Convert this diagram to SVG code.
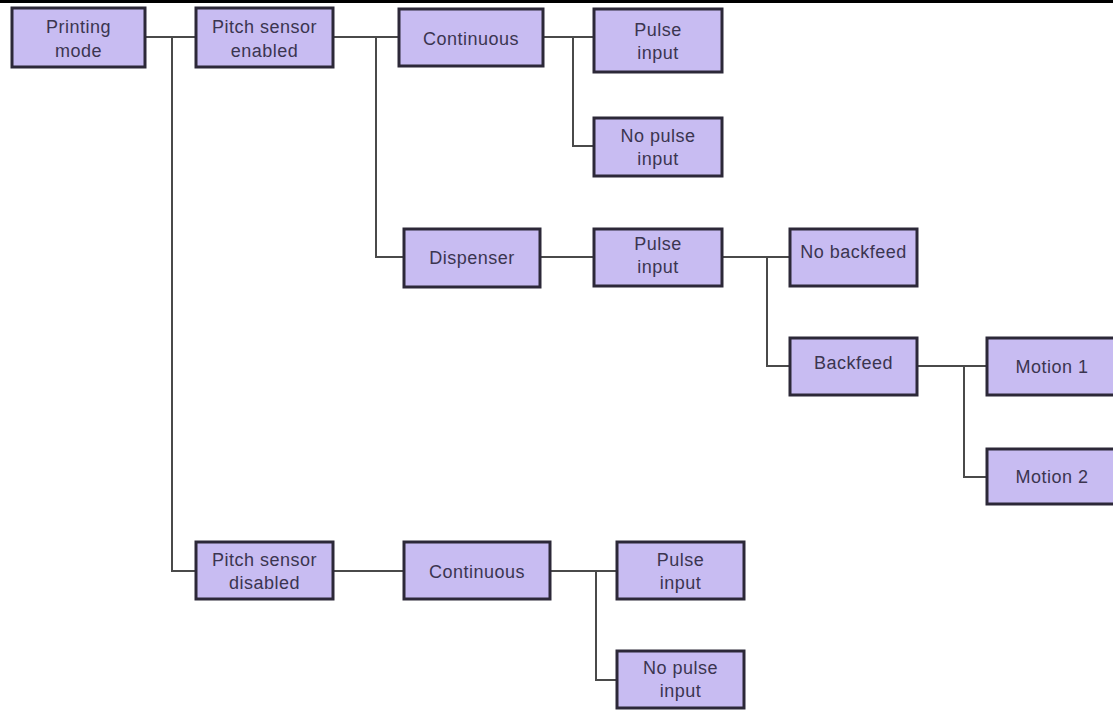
<svg xmlns="http://www.w3.org/2000/svg" width="1113" height="711" viewBox="0 0 1113 711">
<style>
.box{fill:#c8bcf2;stroke:#2c2838;stroke-width:3}
.t{font-family:"Liberation Sans",Arial,sans-serif;font-size:18px;letter-spacing:0.5px;fill:#3b3550;text-anchor:middle}
.c{fill:none;stroke:#4a4a4a;stroke-width:2}
</style>
<rect width="1113" height="711" fill="#ffffff"/>
<rect x="0" y="0" width="1113" height="3" fill="#000000"/>
<g id="connectors">
<path class="c" d="M145,37 H196 M172,37 V571 H196"/>
<path class="c" d="M333,37 H399 M376,37 V257 H404"/>
<path class="c" d="M543,37 H594 M573,37 V146 H594"/>
<path class="c" d="M540,257 H594"/>
<path class="c" d="M722,257 H790 M767,257 V366 H790"/>
<path class="c" d="M917,366 H987 M964,366 V477 H987"/>
<path class="c" d="M333,571 H404"/>
<path class="c" d="M550,571 H617 M596,571 V680 H617"/>
</g>
<g id="n-printing-mode"><rect class="box" x="12" y="8" width="133" height="59"/><text class="t" x="78.5" y="33">Printing</text><text class="t" x="78.5" y="57">mode</text></g>
<g id="n-pitch-enabled"><rect class="box" x="196" y="8" width="137" height="59"/><text class="t" x="264.5" y="33">Pitch sensor</text><text class="t" x="264.5" y="57">enabled</text></g>
<g id="n-continuous-1"><rect class="box" x="399" y="9" width="144" height="57"/><text class="t" x="471" y="45">Continuous</text></g>
<g id="n-pulse-1"><rect class="box" x="594" y="9" width="128" height="63"/><text class="t" x="658" y="36">Pulse</text><text class="t" x="658" y="59">input</text></g>
<g id="n-nopulse-1"><rect class="box" x="594" y="118" width="128" height="58"/><text class="t" x="658" y="142">No pulse</text><text class="t" x="658" y="165">input</text></g>
<g id="n-dispenser"><rect class="box" x="404" y="229" width="136" height="58"/><text class="t" x="472" y="264">Dispenser</text></g>
<g id="n-pulse-2"><rect class="box" x="594" y="229" width="128" height="57"/><text class="t" x="658" y="250">Pulse</text><text class="t" x="658" y="273">input</text></g>
<g id="n-no-backfeed"><rect class="box" x="790" y="229" width="127" height="57"/><text class="t" x="853.5" y="258">No backfeed</text></g>
<g id="n-backfeed"><rect class="box" x="790" y="338" width="127" height="57"/><text class="t" x="853.5" y="369">Backfeed</text></g>
<g id="n-motion-1"><rect class="box" x="987" y="338" width="130" height="57"/><text class="t" x="1052" y="373">Motion 1</text></g>
<g id="n-motion-2"><rect class="box" x="987" y="449" width="130" height="55"/><text class="t" x="1052" y="483">Motion 2</text></g>
<g id="n-pitch-disabled"><rect class="box" x="196" y="542" width="137" height="57"/><text class="t" x="264.5" y="566">Pitch sensor</text><text class="t" x="264.5" y="589">disabled</text></g>
<g id="n-continuous-2"><rect class="box" x="404" y="542" width="146" height="57"/><text class="t" x="477" y="578">Continuous</text></g>
<g id="n-pulse-3"><rect class="box" x="617" y="542" width="127" height="57"/><text class="t" x="680.5" y="566">Pulse</text><text class="t" x="680.5" y="589">input</text></g>
<g id="n-nopulse-3"><rect class="box" x="617" y="651" width="127" height="57"/><text class="t" x="680.5" y="674">No pulse</text><text class="t" x="680.5" y="697">input</text></g>
</svg>
